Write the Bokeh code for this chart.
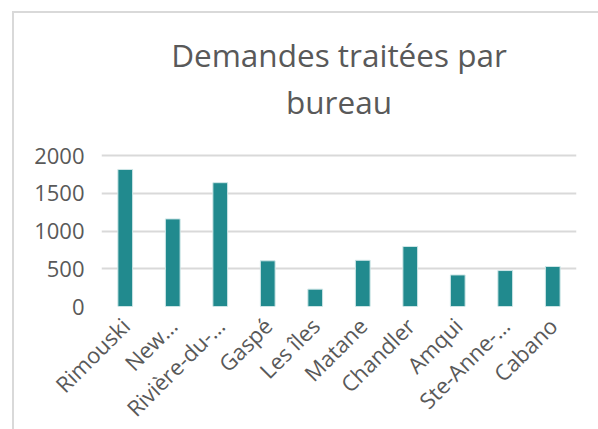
from math import pi
from bokeh.plotting import figure
from bokeh.models import Label, Range1d, FactorRange, ColumnDataSource
from bokeh.embed import file_html
from bokeh.resources import INLINE

categories = ["Rimouski", "New…", "Rivière-du-…", "Gaspé", "Les îles", "Matane",
              "Chandler", "Amqui", "Ste-Anne-…", "Cabano"]
values = [1815, 1160, 1640, 605, 230, 612, 795, 418, 476, 530]
y_ticks = [0, 500, 1000, 1500, 2000]
title_lines = ["Demandes traitées par", "bureau"]

FONT = "Open Sans"
TXT = "#595959"
FRAME_W = 475
FRAME_H = 293            # pixel height of frame (title area + bar area)
BAR_AREA_H = 151         # pixel height for 0..2000
Y_MAX = max(y_ticks)
units_per_px = Y_MAX / BAR_AREA_H
y_top = Y_MAX + (FRAME_H - BAR_AREA_H) * units_per_px

src = ColumnDataSource(dict(cat=categories, val=values))

p = figure(x_range=FactorRange(*categories, range_padding=0), y_range=Range1d(0, y_top),
           frame_width=FRAME_W, frame_height=FRAME_H, output_backend="svg",
           toolbar_location=None,
           min_border_left=87, min_border_right=22, min_border_top=0,
           min_border_bottom=123)
p.title.visible = False
p.styles = {"margin-left": "12px", "margin-top": "11px",
            "border-left": "2px solid #d9d9d9", "border-top": "2px solid #d9d9d9"}

p.vbar(x="cat", top="val", width=0.31, source=src, fill_color="#218a8e",
       line_color="#cfe6e7", line_width=1)

for txt, px_baseline in zip(title_lines, (41, 88)):
    p.add_layout(Label(x=len(categories) / 2, y=y_top - px_baseline * units_per_px, text=txt,
                       text_align="center", text_baseline="alphabetic", text_font=FONT,
                       text_font_size="31.5px", text_color=TXT))

p.outline_line_color = None
p.xgrid.grid_line_color = None
p.ygrid.grid_line_color = "#d9d9d9"
p.ygrid.grid_line_width = 2
p.yaxis.ticker = y_ticks
for ax in (p.xaxis, p.yaxis):
    ax.axis_line_color = None
    ax.major_tick_line_color = None
    ax.minor_tick_line_color = None
    ax.major_label_text_font = FONT
    ax.major_label_text_color = TXT
    ax.major_label_text_font_size = "22px"
p.xaxis.major_label_orientation = pi / 4
p.xaxis.major_label_standoff = 15
p.yaxis.major_label_standoff = 17
p.xaxis.major_tick_out = 0
p.yaxis.major_tick_out = 0

open("out.html", "w").write(file_html(p, INLINE))
